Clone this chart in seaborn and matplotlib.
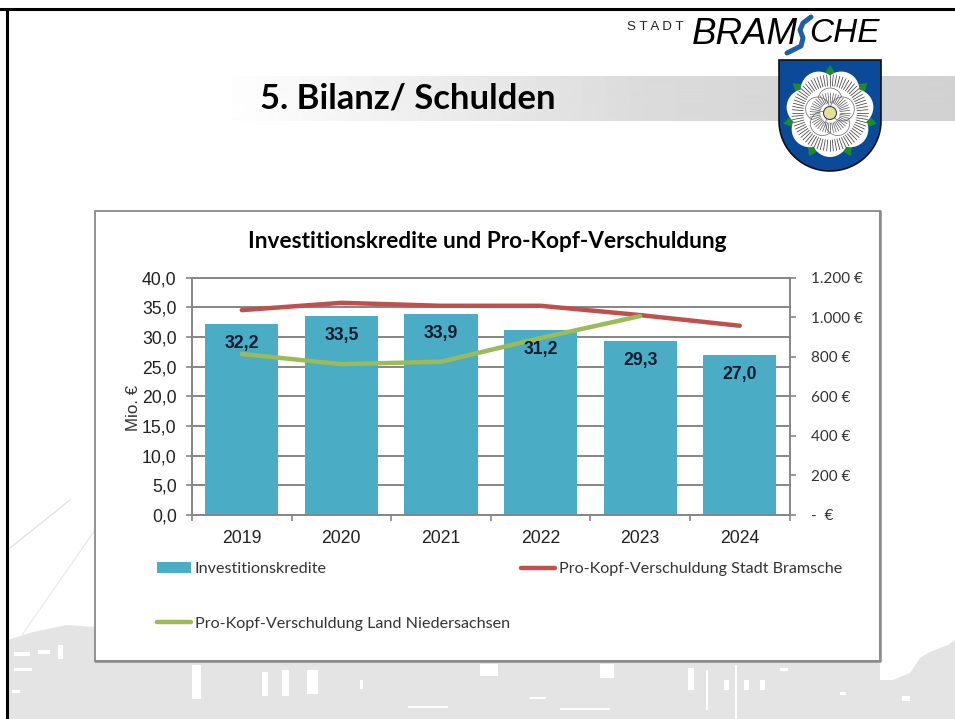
import numpy as np
import pandas as pd
import matplotlib
matplotlib.use('Agg')
import matplotlib.pyplot as plt
from matplotlib.patches import Polygon, Rectangle, Circle
from matplotlib.lines import Line2D
import seaborn as sns

# Chart values
years = ['2019', '2020', '2021', '2022', '2023', '2024']
kredite = [32.2, 33.5, 33.9, 31.2, 29.3, 27.0]
kopf_stadt = [1036, 1073, 1058, 1058, 1011, 957]
kopf_land = [814, 763, 775, 895, 1006]

left_ticks = [0, 5, 10, 15, 20, 25, 30, 35, 40]
right_ticks = [0, 200, 400, 600, 800, 1000, 1200]
right_labels = ['-  €', '200 €', '400 €', '600 €', '800 €', '1.000 €', '1.200 €']

BLUE = '#4bacc6'
RED = '#c0504d'
GREEN = '#9bbb59'
GRID = '#868686'
W, H = 955, 719

sns.set_theme(style='white')
plt.rcParams['font.family'] = ['Liberation Sans', 'DejaVu Sans']

fig = plt.figure(figsize=(W / 100, H / 100), dpi=100, facecolor='white')

# Slide background, drawn in pixel coordinates
bg = fig.add_axes([0, 0, 1, 1])
bg.set_xlim(0, W)
bg.set_ylim(H, 0)
bg.axis('off')

# grey title band, fading in from the left
band = np.concatenate([np.linspace(1, 0.86, 420), np.linspace(0.86, 0.82, 315)])
bg.imshow(band[None, :], extent=(220, W, 121, 76), cmap='gray', vmin=0, vmax=1,
          aspect='auto', zorder=1)
bg.set_xlim(0, W)
bg.set_ylim(H, 0)

# town silhouette at the bottom
SIL = '#e4e4e4'
skyline = [(8, 719), (8, 640), (33, 632), (67, 625), (95, 627), (120, 655), (880, 655),
           (880, 680), (893, 680), (910, 673), (920, 658), (930, 652), (940, 648), (948, 645),
           (955, 640), (955, 719)]
bg.add_patch(Polygon(skyline, closed=True, fc=SIL, ec='none', zorder=1))
# the white gaps in the silhouette (windows, arches, cars)
gaps = [(14, 652, 16, 4), (14, 668, 18, 3), (38, 650, 12, 4), (12, 690, 8, 3), (58, 645, 5, 14),
        (192, 665, 9, 34), (262, 672, 6, 24), (282, 670, 7, 26), (307, 670, 11, 24),
        (480, 664, 18, 12), (600, 664, 14, 14), (688, 668, 6, 22), (706, 670, 2, 40),
        (735, 665, 2, 54), (724, 680, 5, 10), (744, 680, 5, 10), (760, 680, 5, 10),
        (408, 706, 40, 2), (530, 697, 16, 2), (560, 708, 50, 2),
        (780, 668, 8, 3), (840, 692, 6, 3), (902, 696, 8, 5), (360, 680, 3, 9)]
for gx, gy, gw, gh in gaps:
    bg.add_patch(Rectangle((gx, gy), gw, gh, fc='white', ec='none', zorder=1))
bg.plot([10, 70], [548, 500], color='#e4e4e4', lw=1, zorder=1)
bg.plot([22, 95], [635, 530], color='#e8e8e8', lw=0.8, zorder=1)

# slide frame
bg.plot([0, W], [9, 9], color='black', lw=2.2, zorder=2)
bg.plot([7, 7], [9, H], color='black', lw=2.2, zorder=2)

# slide title and logo text
bg.text(260, 99, '5. Bilanz/ Schulden', family='Lato', fontweight='bold', fontsize=24.9,
        color='black', va='center', ha='left', zorder=3)
bg.text(627, 27, 'S T A D T', fontsize=9.6, family='Liberation Sans', color='#222222',
        va='center', ha='left', zorder=3)
bg.text(692, 34, 'BRAM', fontsize=26.5, family='Liberation Sans', style='italic', color='black',
        va='center', ha='left', zorder=3)
bg.text(809, 34, 'CHE', fontsize=24, family='Liberation Sans', style='italic', color='black',
        va='center', ha='left', zorder=3)
bg.plot([811, 803, 800, 803, 801, 787], [17, 23, 30, 38, 46, 53], color='#1f5fa8', lw=3.6,
        solid_capstyle='round', zorder=3)

# coat of arms
cx, cy = 830, 113
t = np.linspace(0, np.pi, 40)
shield = [(779, 60), (881, 60), (881, 118)] + \
    [(830 + 51 * np.cos(a), 121 + 50 * np.sin(a)) for a in t] + [(779, 118)]
bg.add_patch(Polygon(shield, closed=True, fc='#0b4a99', ec='#111111', lw=1.2, zorder=3))
for a in np.deg2rad(90 + np.arange(7) * 360 / 7):
    tip = (cx + 48 * np.cos(a), cy - 48 * np.sin(a))
    b1 = (cx + 32 * np.cos(a + 0.38), cy - 32 * np.sin(a + 0.38))
    b2 = (cx + 32 * np.cos(a - 0.38), cy - 32 * np.sin(a - 0.38))
    bg.add_patch(Polygon([tip, b1, b2], closed=True, fc='#1c8a2e', ec='none', zorder=4))
for a in np.deg2rad(90 + (np.arange(7) + 0.5) * 360 / 7):
    bg.add_patch(Circle((cx + 26 * np.cos(a), cy - 26 * np.sin(a)), 18, fc='white', ec='none', zorder=5))
bg.add_patch(Circle((cx, cy), 28, fc='white', ec='none', zorder=5))
for a in np.deg2rad(np.arange(0, 360, 5)):
    bg.plot([cx + 27 * np.cos(a), cx + 38 * np.cos(a)], [cy + 27 * np.sin(a), cy + 38 * np.sin(a)],
            color='#444444', lw=0.55, zorder=6)
for a in np.deg2rad(90 + np.arange(5) * 72):
    bg.add_patch(Circle((cx + 13 * np.cos(a), cy - 13 * np.sin(a)), 12, fc='white', ec='#666666', lw=0.5, zorder=6))
for a in np.deg2rad(np.arange(0, 360, 8)):
    bg.plot([cx + 10 * np.cos(a), cx + 20 * np.cos(a)], [cy + 10 * np.sin(a), cy + 20 * np.sin(a)],
            color='#555555', lw=0.5, zorder=7)
bg.add_patch(Circle((cx, cy), 6.5, fc='#e4df9d', ec='#444444', lw=0.8, zorder=8))

# chart panel
bg.add_patch(Rectangle((95, 211), 785, 450, fc='white', ec='#8a8a8a', lw=1.3, zorder=8))
bg.plot([95, 880, 880], [661, 661, 211], color='#8a8a8a', lw=1.8, zorder=8)
bg.text(487, 241, 'Investitionskredite und Pro-Kopf-Verschuldung', family='Lato',
        fontweight='bold', fontsize=16.3, color='black', ha='center', va='center', zorder=9)

# Main chart
ax = fig.add_axes([192 / W, 1 - 515 / H, 597.5 / W, 237.3 / H], facecolor='none')
ax.set_axisbelow(True)
df = pd.DataFrame({'jahr': years, 'kredite': kredite})
sns.barplot(data=df, x='jahr', y='kredite', color=BLUE, saturation=1, width=0.735, linewidth=0,
            edgecolor='none', ax=ax, zorder=2)
ax.set_xlim(-0.5, 5.5)
ax.set_ylim(0, 40)
ax.set_yticks(left_ticks)
ax.set_yticklabels([f'{v},0' for v in left_ticks])
ax.yaxis.grid(True, color=GRID, lw=1.4)
ax.xaxis.grid(False)
ax.set_xlabel('')
ax.set_ylabel('Mio. €', fontsize=12.2, color='#333333')
ax.yaxis.set_label_coords(-0.0855, 0.451)
ax.set_xticks(range(6))
ax.set_xticklabels(years)
ax.set_xticks(np.arange(-0.5, 6), minor=True)
ax.tick_params(axis='x', which='major', length=0, labelsize=12.7, labelcolor='#222222', pad=10.5)
ax.tick_params(axis='x', which='minor', length=4.5, width=1.2, color=GRID, bottom=True)
ax.tick_params(axis='y', length=4.5, width=1.2, color=GRID, labelsize=12.7, labelcolor='#222222', pad=6.5, left=True)
for name in ['left', 'bottom', 'right', 'top']:
    ax.spines[name].set_color(GRID)
    ax.spines[name].set_linewidth(1.4)

# Second axis with per-capita debt
ax2 = ax.twinx()
ax2.set_facecolor('none')
sns.lineplot(x=np.arange(6), y=kopf_stadt, color=RED, lw=3.2, ax=ax2, errorbar=None, zorder=4)
sns.lineplot(x=np.arange(5), y=kopf_land, color=GREEN, lw=3.2, ax=ax2, errorbar=None, zorder=5)
ax2.set_xlim(-0.5, 5.5)
ax2.set_ylim(0, 1200)
ax2.set_yticks(right_ticks)
ax2.set_yticklabels(right_labels, family='Lato', fontsize=11, color='#333333')
ax2.tick_params(axis='y', length=4.5, width=1.2, color=GRID, pad=11, right=True)
ax2.set_ylabel('')
ax2.grid(False)
for spine in ax2.spines.values():
    spine.set_visible(False)

# value labels sit about 19 px under the top of each bar
for i, v in enumerate(kredite):
    ax2.annotate(f'{v:.1f}'.replace('.', ','), xy=(i, v * 30), xytext=(0, -14), textcoords='offset points',
                 ha='center', va='center', fontsize=12.7, fontweight='bold', color='#0f1c2e', zorder=6)

# Legend
handles = [Rectangle((0, 0), 1, 1, fc=BLUE, ec='none'),
           Line2D([0], [0], color=GREEN, lw=3.2),
           Line2D([0], [0], color=RED, lw=3.2)]
labels = ['Investitionskredite', 'Pro-Kopf-Verschuldung Land Niedersachsen', 'Pro-Kopf-Verschuldung Stadt Bramsche']
fig.legend(handles, labels, ncol=2, frameon=False, loc='upper left', bbox_to_anchor=(157 / W, 1 - 562 / H),
           borderaxespad=0, borderpad=0, prop={'family': 'Lato', 'size': 11.6}, handlelength=2.1,
           handletextpad=0.25, columnspacing=0.7, labelspacing=2.5, labelcolor='#333333')

fig.savefig('out.png', dpi=100)
